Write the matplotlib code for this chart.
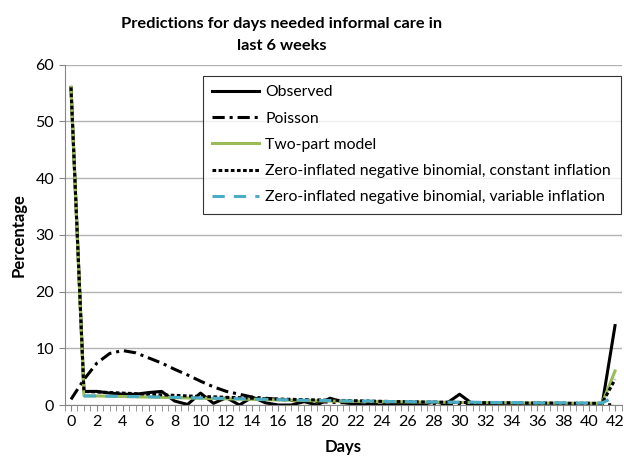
import numpy as np
import matplotlib
matplotlib.use("Agg")
import matplotlib.pyplot as plt

plt.rcParams['font.family'] = ['Lato', 'DejaVu Sans']

#%% data
days = list(range(43))

observed = [56, 2.4, 2.4, 2.1, 1.9, 1.9, 2.2, 2.4, 0.7, 0.1,
            2.1, 0.3, 1.3, 0.0, 1.4, 0.4, 0.0, 0.0, 0.6, 0.0,
            1.2, 0.5, 0.1, 0.0, 0.0, 0.1, 0.1, 0.1, 0.5, 0.3,
            1.9, 0.2, 0.2, 0.1, 0.1, 0.1, 0.1, 0.1, 0.1, 0.1,
            0.3, 0.0, 14.0]

poisson = [1.0, 4.5, 7.4, 9.1, 9.6, 9.2, 8.3, 7.4, 6.3, 5.3,
           4.2, 3.2, 2.4, 1.9, 1.4, 1.2, 1.0, 0.8, 0.7, 0.6,
           0.5, 0.4, 0.3, 0.25, 0.2, 0.15, 0.1, 0.1, 0.05, 0.05,
           0.05, 0.05, 0.05, 0.05, 0.05, 0.05, 0.05, 0.05, 0.05, 0.05,
           0.05, 0.05, 0.05]

two_part = [56, 1.6, 1.6, 1.55, 1.5, 1.45, 1.4, 1.35, 1.3, 1.25,
            1.2, 1.15, 1.1, 1.05, 1.0, 0.95, 0.9, 0.85, 0.8, 0.75,
            0.7, 0.68, 0.65, 0.62, 0.6, 0.58, 0.55, 0.52, 0.5, 0.48,
            0.45, 0.44, 0.42, 0.4, 0.38, 0.37, 0.35, 0.34, 0.33, 0.32,
            0.31, 0.3, 6.0]

zinb_const = [56, 2.4, 2.3, 2.2, 2.1, 2.0, 1.9, 1.8, 1.7, 1.6,
              1.5, 1.45, 1.35, 1.3, 1.2, 1.1, 1.05, 1.0, 0.95, 0.9,
              0.85, 0.8, 0.75, 0.7, 0.65, 0.6, 0.6, 0.55, 0.5, 0.5,
              0.45, 0.45, 0.4, 0.4, 0.4, 0.35, 0.35, 0.35, 0.3, 0.3,
              0.3, 0.3, 4.5]

zinb_var = [np.nan, 1.6, 1.6, 1.55, 1.5, 1.5, 1.45, 1.4, 1.35, 1.3,
            1.25, 1.2, 1.15, 1.1, 1.05, 1.0, 0.95, 0.9, 0.85, 0.8,
            0.8, 0.75, 0.7, 0.7, 0.65, 0.6, 0.6, 0.55, 0.55, 0.5,
            0.5, 0.5, 0.45, 0.45, 0.45, 0.4, 0.4, 0.4, 0.4, 0.35,
            0.35, 0.35, 1.5]

#%% plot
fig = plt.figure(figsize=(6.24, 4.59), dpi=100)
ax = fig.add_axes([0.1034, 0.1176, 0.8926, 0.7414])

lw = 2.2
ax.plot(days, observed, color='black', lw=lw, label='Observed')
ax.plot(days, poisson, color='black', lw=lw, dashes=(4, 1.6, 1, 1.6),
        label='Poisson')
ax.plot(days, two_part, color='#9bbb59', lw=lw, label='Two-part model')
ax.plot(days, zinb_const, color='black', lw=lw, dashes=(1.2, 0.8),
        label='Zero-inflated negative binomial, constant inflation')
ax.plot(days, zinb_var, color='#4bacc6', lw=lw, dashes=(4, 3),
        label='Zero-inflated negative binomial, variable inflation')

ax.set_xlim(-0.5, 42.5)
ax.set_ylim(0, 60)
ax.set_yticks(range(0, 61, 10))
ax.set_xticks(range(0, 43, 2))
ax.set_xticks(np.arange(-0.5, 43, 0.5), minor=True)
ax.tick_params(axis='both', labelsize=11.5, color='#868686', length=4)
ax.tick_params(axis='x', which='minor', length=4, color='#868686')
ax.grid(axis='y', color='#b3b3b3', lw=1)
ax.set_axisbelow(True)
for s in ['top', 'right']:
    ax.spines[s].set_visible(False)
for s in ['left', 'bottom']:
    ax.spines[s].set_color('#868686')

ax.set_xlabel('Days', fontsize=12, fontweight='bold', labelpad=7)
ax.set_ylabel('Percentage', fontsize=12, fontweight='bold', labelpad=6)

fig.text(0.452, 0.923, 'Predictions for days needed informal care in\nlast 6 weeks',
         ha='center', va='center', fontsize=11.8, fontweight='bold',
         linespacing=1.7)

leg = ax.legend(loc='upper left', bbox_to_anchor=(0.234, 0.99), fontsize=11.3,
                frameon=True, fancybox=False, edgecolor='black',
                handlelength=3.0, handletextpad=0.4, borderpad=0.6,
                labelspacing=0.78)
leg.get_frame().set_linewidth(0.8)

fig.savefig('out.png', dpi=100)
